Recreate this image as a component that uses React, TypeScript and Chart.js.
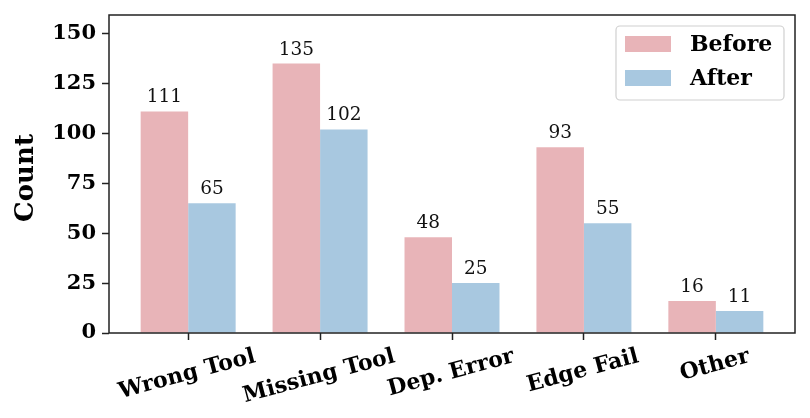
import React, { useEffect, useRef } from 'react';
import { Chart, registerables } from 'chart.js';
Chart.register(...registerables);

const categories = ['Wrong Tool', 'Missing Tool', 'Dep. Error', 'Edge Fail', 'Other'];
const beforeValues = [111, 135, 48, 93, 16];
const afterValues = [65, 102, 25, 55, 11];
const yTicks = [0, 25, 50, 75, 100, 125, 150];
const seriesNames = ['Before', 'After'];
const seriesColors = ['#E8B4B8', '#A8C8E0'];
const yTitle = 'Count';

const FONT = '"DejaVu Serif", serif';
const INK = '#222222';

const framePlugin = {
  id: 'frame',
  afterDraw(chart: any) {
    const { ctx, chartArea: a } = chart;
    ctx.save();
    ctx.strokeStyle = INK;
    ctx.lineWidth = 1.5;
    ctx.strokeRect(a.left, a.top, a.right - a.left, a.bottom - a.top);
    ctx.restore();
  },
};

const valueLabelPlugin = {
  id: 'valueLabels',
  afterDatasetsDraw(chart: any) {
    const { ctx } = chart;
    ctx.save();
    ctx.font = `18.5px ${FONT}`;
    ctx.fillStyle = '#111';
    ctx.textAlign = 'center';
    ctx.textBaseline = 'alphabetic';
    chart.data.datasets.forEach((ds: any, di: number) => {
      const meta = chart.getDatasetMeta(di);
      meta.data.forEach((el: any, i: number) => {
        const v = ds.data[i].y;
        ctx.fillText(String(v), el.x, el.y - 9);
      });
    });
    ctx.restore();
  },
};

const categoryLabelPlugin = {
  id: 'categoryLabels',
  afterDraw(chart: any) {
    const { ctx, chartArea: a } = chart;
    const xs = chart.scales.x;
    const fs = 22;
    const ang = (15 * Math.PI) / 180;
    ctx.save();
    ctx.font = `bold ${fs}px ${FONT}`;
    ctx.fillStyle = '#000';
    ctx.textAlign = 'center';
    ctx.textBaseline = 'middle';
    const top = a.bottom + 14.6;
    categories.forEach((c, i) => {
      const px = xs.getPixelForValue(i);
      const w = ctx.measureText(c).width;
      const h = fs * 1.0;
      const H = w * Math.sin(ang) + h * Math.cos(ang);
      ctx.save();
      ctx.translate(px - 1, top + H / 2 - 2);
      ctx.rotate(-ang);
      ctx.fillText(c, 0, 0);
      ctx.restore();
    });
    ctx.restore();
  },
};

const yTitlePlugin = {
  id: 'yTitle',
  afterDraw(chart: any) {
    const { ctx, chartArea: a } = chart;
    ctx.save();
    ctx.font = `bold 26px ${FONT}`;
    ctx.fillStyle = '#000';
    ctx.textAlign = 'center';
    ctx.textBaseline = 'middle';
    ctx.translate(26, (a.top + a.bottom) / 2 + 4);
    ctx.rotate(-Math.PI / 2);
    ctx.fillText(yTitle, 0, 0);
    ctx.restore();
  },
};

const legendPlugin = {
  id: 'customLegend',
  afterDraw(chart: any) {
    const { ctx, chartArea: a } = chart;
    const boxL = a.right - 179;
    const boxT = a.top + 11;
    const boxW = 168;
    const boxH = 74;
    ctx.save();
    ctx.beginPath();
    if (ctx.roundRect) ctx.roundRect(boxL, boxT, boxW, boxH, 4);
    else ctx.rect(boxL, boxT, boxW, boxH);
    ctx.fillStyle = 'rgba(255,255,255,0.8)';
    ctx.fill();
    ctx.strokeStyle = '#d0d0d0';
    ctx.lineWidth = 1.2;
    ctx.stroke();
    ctx.font = `bold 22px ${FONT}`;
    ctx.textAlign = 'left';
    ctx.textBaseline = 'middle';
    chart.data.datasets.forEach((ds: any, i: number) => {
      const cy = boxT + 18 + i * 34;
      ctx.fillStyle = ds.backgroundColor;
      ctx.fillRect(boxL + 9, cy - 8, 46, 16);
      ctx.fillStyle = '#000';
      ctx.fillText(ds.label, boxL + 74, cy + 1);
    });
    ctx.restore();
  },
};

export default function App() {
  const ref = useRef<HTMLCanvasElement | null>(null);
  useEffect(() => {
    document.body.style.margin = '0';
    const canvas = ref.current;
    if (!canvas) return;
    const chart = new Chart(canvas, {
      type: 'bar',
      data: {
        datasets: [beforeValues, afterValues].map((vals, si) => ({
          label: seriesNames[si],
          data: vals.map((v, i) => ({ x: i, y: v })),
          backgroundColor: seriesColors[si],
          borderWidth: 0,
          categoryPercentage: 0.72,
          barPercentage: 1,
        })),
      },
      options: {
        responsive: false,
        animation: false,
        devicePixelRatio: 1,
        layout: { padding: { top: 15, right: 15, left: 0, bottom: 0 } },
        plugins: { legend: { display: false }, tooltip: { enabled: false } },
        scales: {
          x: {
            type: 'linear',
            min: -0.6,
            max: 4.6,
            offset: false,
            afterBuildTicks: (s: any) => {
              s.ticks = categories.map((_, i) => ({ value: i }));
            },
            afterFit: (s: any) => {
              s.height = 85;
              s.paddingLeft = 0;
              s.paddingRight = 0;
            },
            ticks: { display: false },
            grid: {
              display: true,
              offset: false,
              drawOnChartArea: false,
              drawTicks: true,
              tickLength: 7,
              tickColor: INK,
              tickWidth: 1.5,
            },
            border: { display: false },
          },
          y: {
            type: 'linear',
            min: 0,
            max: 159.3,
            afterBuildTicks: (s: any) => {
              s.ticks = yTicks.map((v) => ({ value: v }));
            },
            afterFit: (s: any) => {
              s.width = 109;
              s.paddingTop = 0;
              s.paddingBottom = 0;
            },
            ticks: {
              color: '#000',
              padding: 6,
              font: { family: FONT, size: 21, weight: 'bold' },
            },
            grid: {
              display: true,
              offset: false,
              drawOnChartArea: false,
              drawTicks: true,
              tickLength: 7,
              tickColor: INK,
              tickWidth: 1.5,
            },
            border: { display: false },
          },
        },
      } as any,
      plugins: [framePlugin, valueLabelPlugin, categoryLabelPlugin, yTitlePlugin, legendPlugin],
    });
    return () => chart.destroy();
  }, []);
  return (
    <div style={{ width: 810, height: 418 }}>
      <canvas ref={ref} width={810} height={418} style={{ display: 'block' }} />
    </div>
  );
}
